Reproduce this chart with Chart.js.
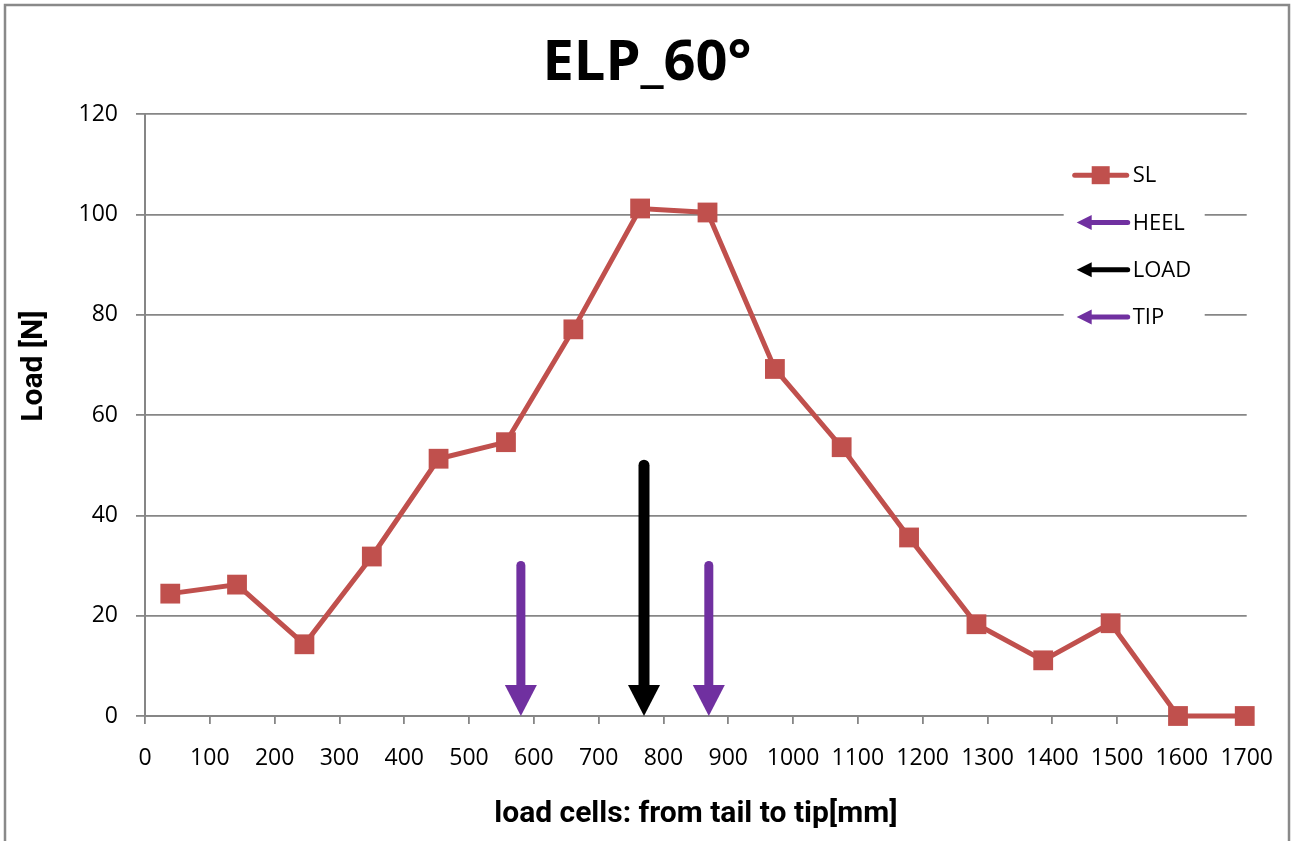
<!DOCTYPE html>
<html>
<head>
<meta charset="utf-8">
<title>ELP_60°</title>
<script src="https://cdn.jsdelivr.net/npm/chart.js@4.4.0/dist/chart.umd.min.js"></script>
<style>
    body { margin: 0; background: #ffffff; }
    canvas { display: block; }
</style>
</head>
<body>
<canvas id="elp-chart" width="1294" height="841"></canvas>
<script>
    // load cell positions along the ski [mm] and measured load [N]
    const cellPos = [39, 142, 246, 350, 453, 557, 661, 764, 868, 972, 1075, 1179, 1283, 1386, 1490, 1594, 1697];
    const slLoad = [24.4, 26.2, 14.3, 31.8, 51.3, 54.6, 77.1, 101.2, 100.4, 69.2, 53.6, 35.6, 18.3, 11.1, 18.5, 0, 0];

    // marker arrows: position [mm] and arrow start height [N]
    const heelX = [580, 580], heelY = [30, 0];
    const loadX = [770, 770], loadY = [50, 0];
    const tipX = [870, 870], tipY = [30, 0];

    const xTicks = {min: 0, max: 1700, step: 100};
    const yTicks = {min: 0, max: 120, step: 20};

    const red = '#C0504D', purple = '#7030A0', black = '#000000', grey = '#868686';
    const sans = '"Open Sans", sans-serif';
    const bold = 'Roboto, sans-serif';

    function pts(xs, ys) {
        return xs.map((x, i) => ({x: x, y: ys[i]}));
    }

    function arrowSet(label, xs, ys, color, shaft) {
        return {label: label, data: pts(xs, ys), borderColor: color, backgroundColor: color,
                showLine: false, pointRadius: 0, arrow: true, shaftWidth: shaft};
    }

    const arrowPlugin = {
        id: 'arrows',
        afterDatasetsDraw(chart) {
            const ctx = chart.ctx;
            chart.data.datasets.forEach((ds, i) => {
                if (!ds.arrow) return;
                const p = chart.getDatasetMeta(i).data;
                const start = p[0], tip = p[1];
                const head = 31, half = 16;
                ctx.save();
                ctx.strokeStyle = ds.borderColor;
                ctx.fillStyle = ds.borderColor;
                ctx.lineWidth = ds.shaftWidth;
                ctx.lineCap = 'round';
                ctx.beginPath();
                ctx.moveTo(start.x, start.y);
                ctx.lineTo(tip.x, tip.y - head + 1);
                ctx.stroke();
                ctx.beginPath();
                ctx.moveTo(tip.x - half, tip.y - head);
                ctx.lineTo(tip.x + half, tip.y - head);
                ctx.lineTo(tip.x, tip.y);
                ctx.closePath();
                ctx.fill();
                ctx.restore();
            });
        }
    };

    const decorPlugin = {
        id: 'decor',
        afterDraw(chart) {
            const ctx = chart.ctx;
            const area = chart.chartArea;
            ctx.save();

            // outer frame
            ctx.strokeStyle = '#898989';
            ctx.lineWidth = 2.5;
            ctx.strokeRect(5, 5, 1284, 900);

            // y axis title
            ctx.save();
            ctx.translate(42, (area.top + area.bottom) / 2 - 49);
            ctx.rotate(-Math.PI / 2);
            ctx.fillStyle = '#000';
            ctx.font = 'bold 30px ' + bold;
            ctx.textAlign = 'center';
            ctx.textBaseline = 'alphabetic';
            ctx.fillText('Load [N]', 0, 0);
            ctx.restore();

            // legend
            const lx = area.right - 183, ly = area.top + 36;
            ctx.fillStyle = '#ffffff';
            ctx.fillRect(lx, ly, 141, 190);
            ctx.font = '22px ' + sans;
            ctx.textBaseline = 'middle';
            ctx.textAlign = 'left';
            chart.data.datasets.forEach((ds, i) => {
                const y = ly + 25 + 47.3 * i;
                const color = ds.borderColor;
                if (!ds.arrow) {
                    ctx.strokeStyle = color;
                    ctx.lineWidth = 5;
                    ctx.lineCap = 'round';
                    ctx.beginPath();
                    ctx.moveTo(lx + 11, y);
                    ctx.lineTo(lx + 63, y);
                    ctx.stroke();
                    ctx.fillStyle = color;
                    ctx.fillRect(lx + 28, y - 9, 18, 18);
                } else {
                    ctx.strokeStyle = color;
                    ctx.fillStyle = color;
                    ctx.lineWidth = 5;
                    ctx.lineCap = 'round';
                    ctx.beginPath();
                    ctx.moveTo(lx + 27, y);
                    ctx.lineTo(lx + 64, y);
                    ctx.stroke();
                    ctx.beginPath();
                    ctx.moveTo(lx + 13, y);
                    ctx.lineTo(lx + 28, y - 7.5);
                    ctx.lineTo(lx + 28, y + 7.5);
                    ctx.closePath();
                    ctx.fill();
                }
                ctx.fillStyle = '#000';
                ctx.fillText(ds.label, lx + 69, y + 1);
            });
            ctx.restore();
        }
    };

    function draw() {
        new Chart(document.getElementById('elp-chart'), {
            type: 'line',
            data: {
                datasets: [
                    {label: 'SL', data: pts(cellPos, slLoad), borderColor: red, backgroundColor: red,
                     borderWidth: 5, pointStyle: 'rect', pointRadius: 14, pointBorderWidth: 0,
                     pointBackgroundColor: red, tension: 0, clip: false},
                    arrowSet('HEEL', heelX, heelY, purple, 9),
                    arrowSet('LOAD', loadX, loadY, black, 11),
                    arrowSet('TIP', tipX, tipY, purple, 9)
                ]
            },
            options: {
                responsive: false,
                animation: false,
                layout: {padding: {left: 47, right: 47, top: 10, bottom: 0}},
                plugins: {
                    legend: {display: false},
                    tooltip: {enabled: false},
                    title: {
                        display: true,
                        text: 'ELP_60°',
                        color: '#000',
                        font: {family: sans, size: 56, weight: 'bold', lineHeight: 1.2},
                        padding: {top: 20, bottom: 17}
                    }
                },
                scales: {
                    x: {
                        type: 'linear',
                        min: xTicks.min,
                        max: xTicks.max,
                        afterFit: (s) => { s.height = 125; },
                        ticks: {stepSize: xTicks.step, autoSkip: false, maxRotation: 0, color: '#000',
                                padding: 21, font: {family: sans, size: 23},
                                callback: (v) => String(v)},
                        grid: {drawOnChartArea: false, drawTicks: true, tickLength: 8, color: grey, lineWidth: 1.8},
                        border: {color: grey, width: 2},
                        title: {display: true, text: 'load cells: from tail to tip[mm]', color: '#000',
                                font: {family: bold, size: 30, weight: 'bold', lineHeight: 1.2},
                                padding: {top: 0, bottom: 9}}
                    },
                    y: {
                        min: yTicks.min,
                        max: yTicks.max,
                        afterFit: (s) => { s.width = 98; },
                        ticks: {stepSize: yTicks.step, color: '#000', padding: 18,
                                font: {family: sans, size: 23}},
                        grid: {color: grey, lineWidth: 1.8, tickLength: 9},
                        border: {color: grey, width: 2}
                    }
                }
            },
            plugins: [arrowPlugin, decorPlugin]
        });
    }

    Promise.all([
        document.fonts.load('bold 56px "Open Sans"'),
        document.fonts.load('22px "Open Sans"'),
        document.fonts.load('bold 30px Roboto')
    ]).then(draw, draw);
</script>
</body>
</html>
